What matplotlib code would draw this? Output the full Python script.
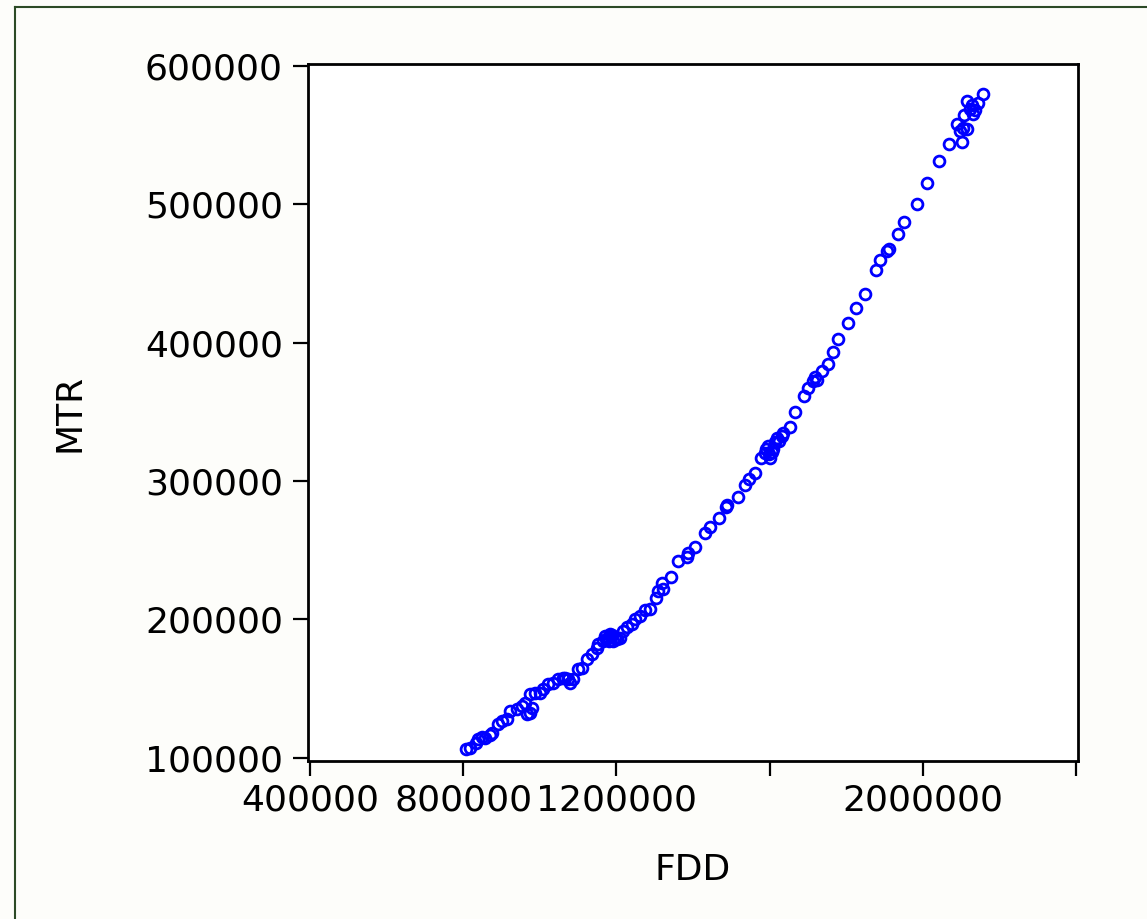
import matplotlib.pyplot as plt
from matplotlib.lines import Line2D

# FDD vs MTR values
fdd = [807000, 818000, 833000, 839000, 849000, 857000, 870000, 875000, 891000, 901000,
       914000, 922000, 940000, 954000, 961000, 967000, 974000, 980000, 974000, 987000,
       1001000, 1008000, 1021000, 1034000, 1048000, 1061000, 1066000, 1074000, 1079000, 1087000,
       1100000, 1110000, 1123000, 1136000, 1149000, 1152000, 1165000, 1170000, 1173000, 1178000,
       1181000, 1183000, 1186000, 1188000, 1191000, 1196000, 1202000, 1209000, 1217000, 1228000,
       1241000, 1249000, 1262000, 1275000, 1288000, 1303000, 1309000, 1322000, 1319000, 1343000,
       1361000, 1384000, 1387000, 1405000, 1431000, 1444000, 1468000, 1486000, 1489000, 1518000,
       1536000, 1546000, 1562000, 1578000, 1588000, 1591000, 1596000, 1598000, 1601000, 1606000,
       1609000, 1614000, 1619000, 1624000, 1632000, 1635000, 1653000, 1666000, 1690000, 1700000,
       1713000, 1719000, 1724000, 1737000, 1752000, 1766000, 1779000, 1805000, 1826000, 1849000,
       1878000, 1888000, 1907000, 1912000, 1935000, 1951000, 1985000, 2011000, 2042000, 2068000,
       2102000, 2089000, 2105000, 2115000, 2097000, 2108000, 2115000, 2128000, 2136000, 2131000,
       2123000, 2144000, 2157000]
mtr = [106500, 107200, 110800, 113700, 115200, 114500, 116600, 118100, 124600, 126700,
       128200, 134000, 135400, 137600, 139700, 131800, 132500, 136100, 146200, 147000,
       147000, 149900, 153500, 154200, 157100, 157800, 157800, 157100, 154200, 157100,
       164300, 165000, 171500, 175100, 179500, 182400, 184500, 188100, 186000, 186700,
       184500, 189600, 187400, 188900, 184500, 186700, 186000, 186700, 191800, 194600,
       196800, 200400, 202600, 206900, 207700, 215600, 220700, 222100, 226400, 230800,
       242300, 245200, 248100, 252400, 262600, 266900, 273400, 281300, 282800, 288600,
       297200, 301600, 305900, 316800, 320400, 323300, 325400, 319600, 316800, 321100,
       323300, 328300, 331200, 329000, 332600, 334800, 339100, 350000, 361500, 367300,
       372400, 375300, 373100, 379600, 384700, 393300, 402700, 414300, 425100, 435200,
       452600, 459800, 466300, 467800, 478600, 487300, 500300, 515400, 531300, 543600,
       545100, 558100, 555200, 554500, 553000, 564600, 574700, 571800, 568200, 565300,
       568900, 573200, 579700]

x_ticks = [400000, 800000, 1200000, 1600000, 2000000, 2400000]
x_labels = ['400000', '800000', '1200000', '', '2000000', '']
y_ticks = [100000, 200000, 300000, 400000, 500000, 600000]

plt.rcParams['font.family'] = ['DejaVu Sans']

fig = plt.figure(figsize=(11.47, 9.19), dpi=100)
fig.patch.set_facecolor('#fdfdfa')
ax = fig.add_axes([0.2685, 0.1719, 0.6713, 0.7585])

ax.plot(fdd, mtr, linestyle='none', marker='o', markersize=7.8,
        markerfacecolor='none', markeredgecolor='#0000ff', markeredgewidth=2.0)

ax.set_xlim(395000, 2405000)
ax.set_ylim(97500, 601500)
ax.set_xticks(x_ticks)
ax.set_xticklabels(x_labels)
ax.set_yticks(y_ticks)
ax.set_yticklabels([str(v) for v in y_ticks])
ax.tick_params(direction='out', length=11, width=1.6, labelsize=26, pad=7,
               top=False, right=False)
ax.tick_params(axis='x', pad=5)
for s in ax.spines.values():
    s.set_linewidth(2.0)
    s.set_color('black')

ax.set_xlabel('FDD', fontsize=26, labelpad=26)
ax.set_ylabel('MTR', fontsize=26, labelpad=42)

# dark green outer frame (left and top edges visible)
fx = 15 / 1147
fy = 1 - 7 / 919
fig.add_artist(Line2D([fx, fx], [0, fy], color='#2c4a26', linewidth=1.5))
fig.add_artist(Line2D([fx, 1], [fy, fy], color='#2c4a26', linewidth=1.5))

fig.savefig('out.png', dpi=100, facecolor=fig.get_facecolor())
